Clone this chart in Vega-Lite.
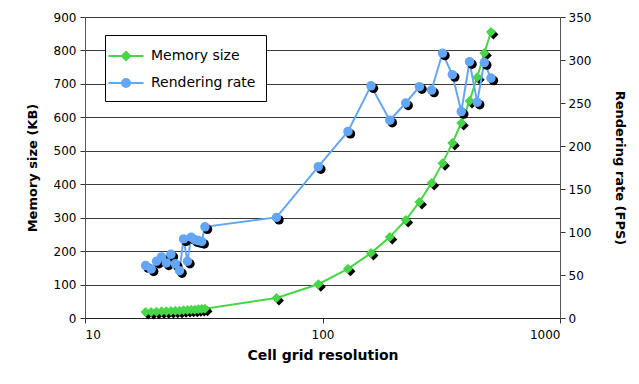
{
  "$schema": "https://vega.github.io/schema/vega-lite/v6.json",
  "width": 475,
  "height": 301,
  "autosize": "none",
  "padding": {"left": 85, "top": 17, "right": 79, "bottom": 66},
  "background": "white",
  "config": {
    "view": {"stroke": null},
    "font": "DejaVu Sans",
    "axis": {
      "labelFont": "DejaVu Sans",
      "labelFontSize": 12,
      "labelColor": "black",
      "titleFont": "DejaVu Sans",
      "titleFontSize": 13,
      "titleFontWeight": "bold",
      "titleColor": "black",
      "domainColor": "#555555",
      "tickColor": "#333333",
      "tickSize": 5,
      "gridColor": "#3a3a3a",
      "gridWidth": 1
    }
  },
  "data": {
    "values": [
      {"n": 18, "series": "Memory size", "value": 18},
      {"n": 19, "series": "Memory size", "value": 18},
      {"n": 20, "series": "Memory size", "value": 19},
      {"n": 21, "series": "Memory size", "value": 20},
      {"n": 22, "series": "Memory size", "value": 20},
      {"n": 23, "series": "Memory size", "value": 21},
      {"n": 24, "series": "Memory size", "value": 22},
      {"n": 25, "series": "Memory size", "value": 22},
      {"n": 26, "series": "Memory size", "value": 23},
      {"n": 27, "series": "Memory size", "value": 24},
      {"n": 28, "series": "Memory size", "value": 25},
      {"n": 29, "series": "Memory size", "value": 25},
      {"n": 30, "series": "Memory size", "value": 26},
      {"n": 31, "series": "Memory size", "value": 27},
      {"n": 32, "series": "Memory size", "value": 28},
      {"n": 64, "series": "Memory size", "value": 60},
      {"n": 96, "series": "Memory size", "value": 101},
      {"n": 128, "series": "Memory size", "value": 147},
      {"n": 160, "series": "Memory size", "value": 194},
      {"n": 192, "series": "Memory size", "value": 242},
      {"n": 224, "series": "Memory size", "value": 293},
      {"n": 256, "series": "Memory size", "value": 347},
      {"n": 288, "series": "Memory size", "value": 404},
      {"n": 320, "series": "Memory size", "value": 463},
      {"n": 352, "series": "Memory size", "value": 523},
      {"n": 384, "series": "Memory size", "value": 583},
      {"n": 416, "series": "Memory size", "value": 649},
      {"n": 448, "series": "Memory size", "value": 720},
      {"n": 480, "series": "Memory size", "value": 792},
      {"n": 512, "series": "Memory size", "value": 855},
      {"n": 18, "series": "Rendering rate", "value": 61},
      {"n": 19, "series": "Rendering rate", "value": 57},
      {"n": 20, "series": "Rendering rate", "value": 66},
      {"n": 21, "series": "Rendering rate", "value": 71},
      {"n": 22, "series": "Rendering rate", "value": 64},
      {"n": 23, "series": "Rendering rate", "value": 74},
      {"n": 24, "series": "Rendering rate", "value": 63},
      {"n": 25, "series": "Rendering rate", "value": 55},
      {"n": 26, "series": "Rendering rate", "value": 92},
      {"n": 27, "series": "Rendering rate", "value": 66},
      {"n": 28, "series": "Rendering rate", "value": 94},
      {"n": 29, "series": "Rendering rate", "value": 91},
      {"n": 30, "series": "Rendering rate", "value": 90},
      {"n": 31, "series": "Rendering rate", "value": 89},
      {"n": 32, "series": "Rendering rate", "value": 106},
      {"n": 64, "series": "Rendering rate", "value": 117},
      {"n": 96, "series": "Rendering rate", "value": 176},
      {"n": 128, "series": "Rendering rate", "value": 217},
      {"n": 160, "series": "Rendering rate", "value": 270},
      {"n": 192, "series": "Rendering rate", "value": 230},
      {"n": 224, "series": "Rendering rate", "value": 250},
      {"n": 256, "series": "Rendering rate", "value": 269},
      {"n": 288, "series": "Rendering rate", "value": 265},
      {"n": 320, "series": "Rendering rate", "value": 308},
      {"n": 352, "series": "Rendering rate", "value": 283},
      {"n": 384, "series": "Rendering rate", "value": 240},
      {"n": 416, "series": "Rendering rate", "value": 298},
      {"n": 448, "series": "Rendering rate", "value": 251},
      {"n": 480, "series": "Rendering rate", "value": 297},
      {"n": 512, "series": "Rendering rate", "value": 279}
    ]
  },
  "encoding": {
    "x": {
      "field": "n",
      "type": "quantitative",
      "scale": {"type": "log", "domain": [10, 1000]},
      "title": "Cell grid resolution",
      "axis": {
        "values": [10, 100, 1000],
        "format": "d",
        "grid": false,
        "domainColor": "#222222",
        "labelPadding": 6,
        "titlePadding": 8,
        "titleFontSize": 14
      }
    }
  },
  "layer": [
    {
      "transform": [{"filter": "datum.series === 'Memory size'"}],
      "encoding": {
        "y": {
          "field": "value",
          "type": "quantitative",
          "scale": {"domain": [0, 900], "nice": false},
          "title": "Memory size (KB)",
          "axis": {
            "orient": "left",
            "values": [0, 100, 200, 300, 400, 500, 600, 700, 800, 900],
            "grid": true,
            "labelPadding": 4,
            "titlePadding": 14
          }
        }
      },
      "layer": [
        {
          "mark": {"type": "line", "strokeWidth": 2},
          "encoding": {
            "color": {
              "field": "series",
              "type": "nominal",
              "scale": {"domain": ["Memory size", "Rendering rate"], "range": ["#47d647", "#63a6f5"]},
              "legend": {
                "title": null,
                "orient": "none",
                "legendX": 20,
                "legendY": 18,
                "strokeColor": "black",
                "fillColor": "white",
                "padding": 10,
                "labelFont": "DejaVu Sans",
                "labelFontSize": 14,
                "labelColor": "black",
                "labelOffset": 14,
                "symbolSize": 400,
                "symbolStrokeWidth": 2,
                "rowPadding": 7,
                "encode": {
                  "symbols": {
                    "update": {
                      "shape": {"signal": "datum.value === 'Memory size' ? 'M-1.75,0H1.75M0,-0.42L0.42,0L0,0.42L-0.42,0Z' : 'M-1.75,0H1.75M0.4,0A0.4,0.4 0 1 1 -0.4,0A0.4,0.4 0 1 1 0.4,0Z'"},
                      "fill": {"signal": "datum.value === 'Memory size' ? '#47d647' : '#63a6f5'"},
                      "stroke": {"signal": "datum.value === 'Memory size' ? '#47d647' : '#63a6f5'"},
                      "fillOpacity": {"value": 1},
                      "opacity": {"value": 1},
                      "strokeWidth": {"value": 2}
                    }
                  }
                }
              }
            }
          }
        },
        {
          "mark": {"type": "point", "shape": "diamond", "filled": true, "size": 100, "color": "black", "opacity": 1, "xOffset": 2.5, "yOffset": 2.5}
        },
        {
          "mark": {"type": "point", "shape": "diamond", "filled": true, "size": 100, "opacity": 1},
          "encoding": {
            "color": {"field": "series", "type": "nominal"}
          }
        }
      ]
    },
    {
      "transform": [{"filter": "datum.series === 'Rendering rate'"}],
      "encoding": {
        "y": {
          "field": "value",
          "type": "quantitative",
          "scale": {"domain": [0, 350], "nice": false},
          "title": "Rendering rate (FPS)",
          "axis": {
            "orient": "right",
            "values": [0, 50, 100, 150, 200, 250, 300, 350],
            "grid": false,
            "labelPadding": 3,
            "titlePadding": 22
          }
        }
      },
      "layer": [
        {
          "mark": {"type": "line", "strokeWidth": 2},
          "encoding": {"color": {"field": "series", "type": "nominal"}}
        },
        {
          "mark": {"type": "point", "shape": "circle", "filled": true, "size": 90, "color": "black", "opacity": 1, "xOffset": 2.5, "yOffset": 2.5}
        },
        {
          "mark": {"type": "point", "shape": "circle", "filled": true, "size": 90, "opacity": 1},
          "encoding": {"color": {"field": "series", "type": "nominal"}}
        }
      ]
    }
  ],
  "resolve": {"scale": {"y": "independent"}}
}
